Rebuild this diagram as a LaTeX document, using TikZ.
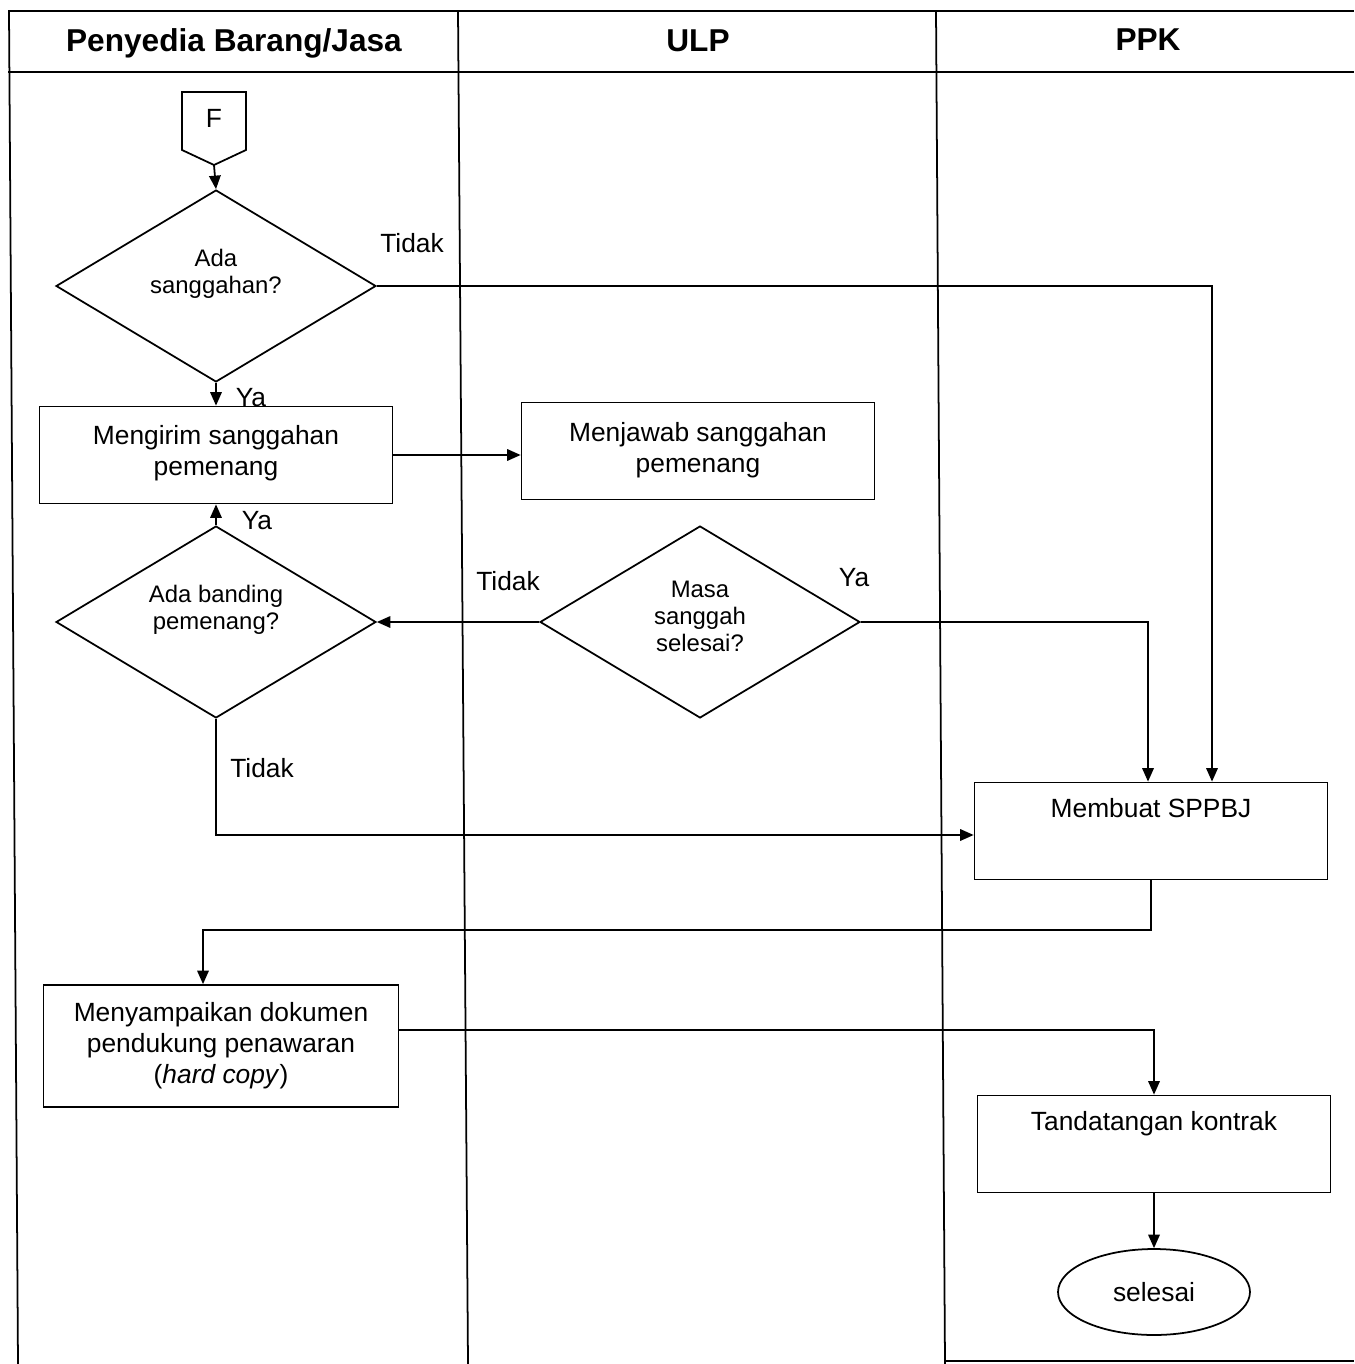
\documentclass[tikz,border=0pt]{standalone}
\usepackage{fontspec}
\setmainfont{Liberation Sans}
\usetikzlibrary{shapes.geometric,arrows.meta,calc}

\begin{document}
\begin{tikzpicture}[x=0.02cm,y=-0.02cm,line width=1pt,
  proc/.style={draw,rectangle,minimum width=7.06cm,minimum height=1.94cm,inner sep=0pt,align=center,font=\fontsize{15}{17.6}\selectfont},
  tallproc/.style={proc,text height=0.7cm,text depth=1.24cm},
  decide/.style={draw,diamond,aspect=1.667,minimum width=6.4cm,minimum height=3.84cm,inner sep=0pt,align=center,text depth=0.58cm,font=\fontsize{13.6}{15.4}\selectfont},
  lbl/.style={font=\fontsize{15}{17}\selectfont},
  lane/.style={font=\bfseries\fontsize{18}{20}\selectfont},
  flow/.style={-{Triangle[length=0.27cm,width=0.23cm]}}]
\useasboundingbox (0,0) rectangle (1354,1364);

% lanes
\draw (8,11)--(1354,11);
\draw (8,72)--(1354,72);
\draw (9,11)--(18,1364);
\draw (458,11)--(468,1364);
\draw (936,11)--(945,1364);
\draw (945,1361)--(1354,1361);
\node[lane] (penyedia) at (234,43) {Penyedia Barang/Jasa};
\node[lane] (ulp) at (698,41) {ULP};
\node[lane] (ppk) at (1148,40) {PPK};

% off-page connector
\draw (182,92)--(246,92)--(246,150)--(214,165)--(182,150)--cycle;
\node[lbl] (f) at (214,118) {F};
\coordinate (ftip) at (214,165);

% steps
\node[decide] (qsanggah) at (216,286) {Ada\\sanggahan?};
\node[proc,text depth=0.18cm] (kirim) at (216,455) {Mengirim sanggahan\\pemenang};
\node[proc,text depth=0.16cm] (jawab) at (698,451) {Menjawab sanggahan\\pemenang};
\node[decide] (qbanding) at (216,622) {Ada banding\\pemenang?};
\node[decide,text depth=0.22cm] (qmasa) at (700,622) {Masa\\sanggah\\selesai?};
\node[tallproc] (sppbj) at (1151,831) {Membuat SPPBJ};
\node[proc,minimum width=7.1cm,minimum height=2.44cm] (dokumen) at (221,1046) {Menyampaikan dokumen\\pendukung penawaran\\(\textit{hard copy})};
\node[tallproc] (kontrak) at (1154,1144) {Tandatangan kontrak};
\node[draw,ellipse,minimum width=3.84cm,minimum height=1.72cm,lbl] (selesai) at (1154,1292) {selesai};

% connectors
\draw[flow] (ftip)--(qsanggah.north);
\draw[flow] (qsanggah.south)--(kirim.north);
\draw[flow] (qsanggah.east) -| ($(sppbj.north)+(61,0)$);
\draw[flow] (kirim.east)--(kirim.east -| jawab.west);
\draw[flow] (qbanding.north)--(kirim.south);
\draw[flow] (qmasa.west)--(qbanding.east);
\draw[flow] (qmasa.east) -| ($(sppbj.north)+(-3,0)$);
\draw[flow] (qbanding.south) |- ($(sppbj.west)+(0,4)$);
\draw[flow] (sppbj.south) -- ++(0,50) -| ($(dokumen.north)+(-18,0)$);
\draw[flow] ($(dokumen.east)+(0,-16)$) -| (kontrak.north);
\draw[flow] (kontrak.south)--(selesai.north);

% labels
\node[lbl] (tidak1) at (412,243) {Tidak};
\node[lbl] (ya1) at (251,398) {Ya};
\node[lbl] (ya2) at (257,521) {Ya};
\node[lbl] (tidak2) at (508,581) {Tidak};
\node[lbl] (ya3) at (854,578) {Ya};
\node[lbl] (tidak3) at (262,768) {Tidak};
\end{tikzpicture}
\end{document}
